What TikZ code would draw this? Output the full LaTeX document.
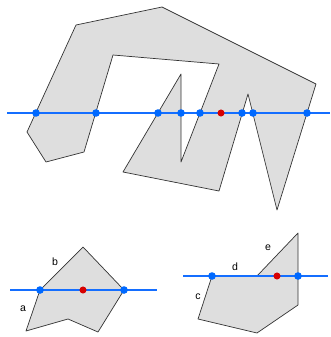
\documentclass[tikz,border=0pt]{standalone}
\usepackage{fontspec}
\setmainfont{Liberation Sans}
\usepackage{xcolor}
\usepackage{tikz}
\definecolor{rayblue}{RGB}{20,110,255}
\definecolor{hitblue}{RGB}{0,105,255}
\definecolor{testred}{RGB}{215,0,0}
\definecolor{polyfill}{RGB}{222,222,222}

\begin{document}
\begin{tikzpicture}[x=0.03cm, y=-0.03cm,
        poly/.style={draw=black!80, fill=polyfill, line width=0.6pt, line join=round},
        ray/.style={draw=rayblue, line width=0.9pt},
        hit/.style={circle, fill=hitblue, inner sep=0pt, minimum size=6.5pt},
        probe/.style={circle, fill=testred, inner sep=0pt, minimum size=6pt},
        edge label/.style={font=\fontsize{9}{10}\selectfont, inner sep=1pt}
    ]
        \useasboundingbox (0,0) rectangle (330,337);

        % main polygon
        \draw[poly] (76,25) -- (162,7) -- (316,84) -- (277,210) -- (248,94)
            -- (219,191) -- (123,172) -- (181,74) -- (181,162) -- (219,64)
            -- (113,55) -- (84,152) -- (46,162) -- (27,132) -- cycle;
        \coordinate (rayL) at (7,113);
        \coordinate (rayR) at (330,113);
        \draw[ray] (rayL) -- (rayR);
        \foreach \x [count=\i] in {36,96,158,181,200,242,253,307}
            \node[hit] (hit\i) at (\x,113) {};
        \node[probe] (pt) at (221,113) {};

        % left example
        \draw[poly] (83,247) -- (124,290) -- (98,332) -- (68,319) -- (26,331)
            -- (40,290) -- cycle;
        \coordinate (rayLa) at (10,290);
        \coordinate (rayLb) at (157,290);
        \draw[ray] (rayLa) -- (rayLb);
        \node[hit] (hitLa) at (40,290) {};
        \node[hit] (hitLb) at (124,290) {};
        \node[probe] (ptL) at (83,290) {};
        \node[edge label] (labA) at (23,309) {a};
        \node[edge label] (labB) at (55,262) {b};

        % right example
        \draw[poly] (298,233) -- (298,305) -- (257,333) -- (198,319) -- (212,276)
            -- (257,276) -- cycle;
        \coordinate (rayRa) at (183,276);
        \coordinate (rayRb) at (328,276);
        \draw[ray] (rayRa) -- (rayRb);
        \node[hit] (hitRa) at (212,276) {};
        \node[hit] (hitRb) at (298,276) {};
        \node[probe] (ptR) at (277,276) {};
        \node[edge label] (labC) at (198,297) {c};
        \node[edge label] (labD) at (235,267) {d};
        \node[edge label] (labE) at (268,248) {e};
    \end{tikzpicture}
\end{document}
